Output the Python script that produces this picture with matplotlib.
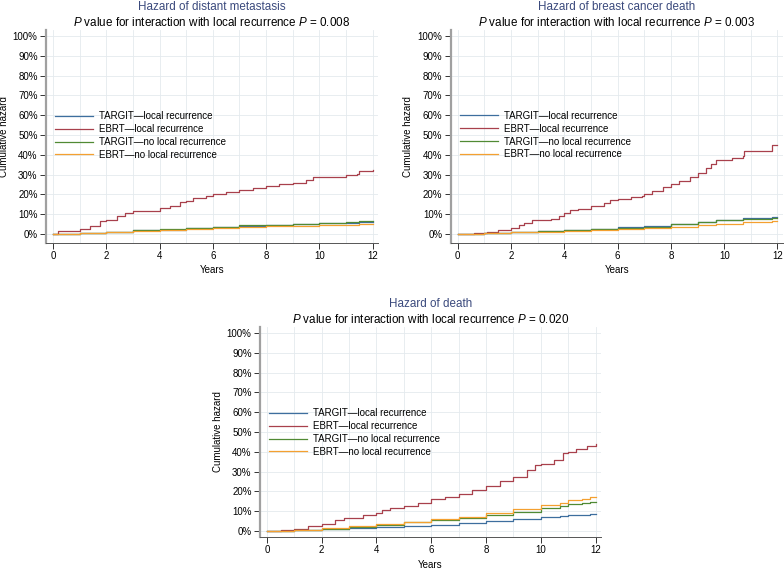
import matplotlib
matplotlib.use('Agg')
import matplotlib.pyplot as plt
from matplotlib.ticker import FuncFormatter, MultipleLocator

plt.rcParams['font.family'] = ['Liberation Sans', 'DejaVu Sans']
plt.rcParams['mathtext.fontset'] = 'custom'
plt.rcParams['mathtext.rm'] = 'Liberation Sans'
plt.rcParams['mathtext.it'] = 'Liberation Sans:italic'

# ---- data (cumulative hazard, %) ----
labels = ['TARGIT\u2014local recurrence', 'EBRT\u2014local recurrence',
          'TARGIT\u2014no local recurrence', 'EBRT\u2014no local recurrence']
colors = ['#3d6e9e', '#a8404c', '#508a34', '#f4a030']

titles = ['Hazard of distant metastasis', 'Hazard of breast cancer death', 'Hazard of death']
p_values = ['0.008', '0.003', '0.020']

# distant metastasis
dm_red_t = [0, 0.2, 0.5, 1.0, 1.4, 1.75, 2.0, 2.4, 2.7, 3.0, 3.5, 4.0, 4.4, 4.75, 5.0, 5.25,
            5.75, 6.0, 6.5, 7.0, 7.5, 8.0, 8.5, 9.0, 9.5, 9.75, 10.0, 10.5, 11.0, 11.4, 11.5, 12.0]
dm_red_v = [0, 1.3, 1.7, 2.7, 3.9, 6.4, 7.2, 9.2, 10.6, 11.4, 11.4, 13.3, 14.3, 16.1, 16.5, 18.3,
            19.0, 20.3, 21.0, 22.4, 23.5, 24.4, 25.4, 26.0, 27.4, 28.6, 28.7, 29.0, 30.0, 30.4, 32.1, 32.3]
dm_t = [0, 1, 2, 3, 4, 5, 6, 7, 8, 9, 10, 11, 11.5, 12]
dm_blue_v = [0, 0.5, 1.2, 1.8, 2.3, 3.0, 3.6, 4.2, 4.6, 5.0, 5.4, 5.7, 6.2, 6.2]
dm_green_v = [0, 0.5, 1.2, 1.9, 2.4, 3.1, 3.8, 4.5, 4.8, 5.2, 5.8, 6.0, 6.6, 6.6]
dm_orange_v = [0, 0.4, 1.1, 1.7, 2.1, 2.7, 3.2, 3.7, 4.0, 4.3, 4.6, 4.8, 5.0, 5.0]

# breast cancer death
bc_red_t = [0, 0.6, 1.1, 1.5, 2.0, 2.3, 2.5, 2.8, 3.0, 3.5, 3.8, 4.0, 4.2, 4.5, 5.0, 5.5, 5.7, 6.0,
            6.5, 6.9, 7.0, 7.3, 7.7, 8.0, 8.3, 8.7, 9.0, 9.3, 9.5, 9.7, 10.0, 10.3, 10.7, 10.75, 11.8, 12.0]
bc_red_v = [0, 0.5, 1.2, 1.8, 3.0, 4.5, 5.5, 6.9, 7.0, 7.8, 9.0, 10.5, 12.0, 12.5, 14.0, 15.5, 17.0, 17.8,
            18.7, 19.0, 20.0, 22.0, 24.0, 25.2, 26.8, 29.0, 31.0, 33.5, 35.5, 37.2, 37.5, 38.5, 39.5, 41.8, 45.0, 45.0]
bc_t = [0, 1, 2, 3, 4, 5, 6, 7, 8, 9, 9.7, 10.7, 11.8, 12]
bc_blue_v = [0, 0.4, 0.9, 1.4, 2.1, 2.7, 3.4, 4.0, 5.0, 6.0, 7.3, 7.9, 8.8, 8.8]
bc_green_v = [0, 0.4, 0.8, 1.3, 2.0, 2.6, 3.3, 3.8, 5.0, 5.9, 7.2, 7.8, 8.2, 8.2]
bc_orange_v = [0, 0.3, 0.8, 1.2, 1.7, 2.2, 2.7, 3.2, 3.7, 4.5, 5.3, 6.0, 6.7, 6.7]

# death
d_red_t = [0, 0.5, 1.0, 1.5, 2.0, 2.5, 2.8, 3.0, 3.5, 4.0, 4.2, 4.5, 5.0, 5.5, 6.0, 6.5, 7.0, 7.5,
           8.0, 8.5, 9.0, 9.5, 9.8, 10.0, 10.5, 10.8, 11.0, 11.3, 11.7, 12.0]
d_red_v = [0, 0.3, 1.2, 2.4, 3.7, 5.4, 6.6, 6.7, 7.9, 9.3, 10.8, 11.6, 12.6, 14.3, 16.0, 17.2, 18.5, 20.9,
           23.0, 25.3, 27.3, 30.6, 33.2, 34.0, 35.7, 39.6, 39.9, 41.6, 42.8, 43.8]
d_t = [0, 1, 2, 3, 4, 5, 6, 7, 8, 9, 10, 10.7, 11, 11.5, 11.8, 12]
d_blue_v = [0, 0.3, 0.8, 1.4, 2.0, 2.6, 3.3, 4.0, 5.0, 6.0, 7.0, 7.5, 8.0, 8.3, 8.8, 8.8]
d_green_v = [0, 0.4, 1.2, 2.3, 3.3, 4.4, 5.5, 6.5, 8.0, 9.8, 11.6, 12.5, 13.5, 14.0, 14.8, 14.8]
d_orange_v = [0, 0.5, 1.5, 2.7, 3.8, 4.8, 6.3, 7.3, 9.3, 11.0, 13.0, 14.0, 15.5, 16.0, 17.0, 17.0]

panels = [
    [(dm_t, dm_blue_v), (dm_red_t, dm_red_v), (dm_t, dm_green_v), (dm_t, dm_orange_v)],
    [(bc_t, bc_blue_v), (bc_red_t, bc_red_v), (bc_t, bc_green_v), (bc_t, bc_orange_v)],
    [(d_t, d_blue_v), (d_red_t, d_red_v), (d_t, d_green_v), (d_t, d_orange_v)],
]

fig = plt.figure(figsize=(7.84, 5.69), dpi=100)
fig.patch.set_facecolor('white')

# axes rectangles and y-range per panel
rects = [(0.0587, 0.573, 0.4235, 0.374),
         (0.575, 0.573, 0.4235, 0.374),
         (0.3316, 0.0562, 0.435, 0.369)]
ylims = [(-4.5, 103), (-4.5, 103), (-3, 103)]
xlims = [(-0.26, 12.2), (-0.26, 12.2), (-0.255, 12.2)]
legend_anchor = [(0.027, 0.505), (0.027, 0.507), (0.026, 0.498)]

for k in range(3):
    ax = fig.add_axes(rects[k])
    for (t, v), c, lab in zip(panels[k], colors, labels):
        ax.step(t, v, where='post', color=c, lw=0.9, label=lab)

    ax.set_xlim(*xlims[k])
    ax.set_ylim(*ylims[k])
    ax.set_xticks(range(0, 13, 2))
    ax.xaxis.set_minor_locator(MultipleLocator(1))
    ax.set_yticks(range(0, 101, 10))
    ax.yaxis.set_major_formatter(FuncFormatter(lambda y, _: '%d%%' % y))
    ax.tick_params(axis='both', which='major', labelsize=7, length=4, width=0.7,
                   color='#333333', pad=2)
    ax.tick_params(axis='x', which='minor', length=0)
    ax.grid(True, which='both', axis='x', color='#e4eaee', lw=0.6)
    ax.grid(True, which='major', axis='y', color='#e4eaee', lw=0.6)
    ax.set_axisbelow(True)

    for s in ['top', 'right']:
        ax.spines[s].set_visible(False)
    ax.spines['left'].set_color('#a0a0a0')
    ax.spines['left'].set_linewidth(1.6)
    ax.spines['bottom'].set_color('#555555')
    ax.spines['bottom'].set_linewidth(0.7)

    ax.set_xlabel('Years', fontsize=7, labelpad=3)
    ax.set_ylabel('Cumulative hazard', fontsize=7, labelpad=3)

    ax.annotate(titles[k], xy=(0.5, 1), xycoords='axes fraction', xytext=(0, 16.8),
                textcoords='offset points', ha='center', va='center', fontsize=8.4,
                color='#3b4a7d')
    ax.annotate('$P$ value for interaction with local recurrence $P$ = ' + p_values[k],
                xy=(0.5, 1), xycoords='axes fraction', xytext=(0, 5.8),
                textcoords='offset points', ha='center', va='center', fontsize=8.4)

    ax.legend(loc='center left', bbox_to_anchor=legend_anchor[k], frameon=False,
              fontsize=7, handlelength=3.9, handletextpad=0.6, labelspacing=0.3,
              borderpad=0, borderaxespad=0)

fig.savefig('out.png', dpi=100, facecolor='white')
